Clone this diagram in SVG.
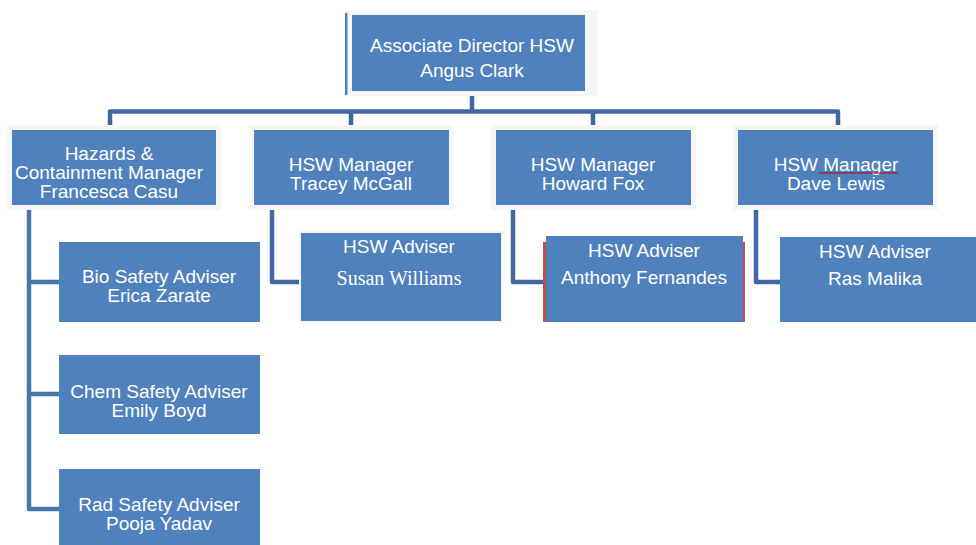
<svg xmlns="http://www.w3.org/2000/svg" width="976" height="545" viewBox="0 0 976 545">
<style>
.box{fill:#4F81BD}
.halo{fill:#F6F6F6}
.t{font-family:"Liberation Sans",Arial,sans-serif;font-size:19px;fill:#FFFFFF;text-anchor:middle}
.s{font-family:"Liberation Serif","Times New Roman",serif;font-size:20px;fill:#FFFFFF;text-anchor:middle}
.c{fill:none;stroke:#41699F;stroke-width:4.5;stroke-linejoin:round}
.c2{fill:none;stroke:#4A76AE;stroke-width:4.5;stroke-linejoin:round}
</style>
<rect width="976" height="545" fill="#FFFFFF"/>
<g id="connectors">
<path class="c" d="M472,96 V111.5 M110,125 V111.5 H838 V125 M351,111.5 V125 M593,111.5 V125"/>
<path class="c2" d="M29,205 V509 H59 M29,282 H59 M29,394 H59"/>
<path class="c" d="M272,208 V282 H301"/>
<path class="c" d="M513,208 V282 H546"/>
<path class="c" d="M756,208 V282 H780"/>
</g>
<g id="director">
<rect class="halo" x="346" y="10" width="251" height="86"/>
<rect x="345" y="13" width="2.5" height="82" fill="#4F81BD"/>
<rect class="box" x="352" y="15" width="233" height="76"/>
<text class="t" x="472" y="52">Associate Director HSW</text>
<text class="t" x="472" y="77">Angus Clark</text>
</g>
<g id="hazards">
<rect class="halo" x="7" y="125" width="214" height="85"/>
<rect class="box" x="12" y="130" width="204" height="75"/>
<text class="t" x="109" y="160">Hazards &amp;</text>
<text class="t" x="109" y="179">Containment Manager</text>
<text class="t" x="109" y="198">Francesca Casu</text>
</g>
<g id="tracey">
<rect class="halo" x="249" y="125" width="205" height="85"/>
<rect class="box" x="254" y="130" width="195" height="75"/>
<text class="t" x="351" y="171">HSW Manager</text>
<text class="t" x="351" y="190">Tracey McGall</text>
</g>
<g id="howard">
<rect class="halo" x="491" y="125" width="205" height="85"/>
<rect class="box" x="496" y="130" width="195" height="75"/>
<text class="t" x="593" y="171">HSW Manager</text>
<text class="t" x="593" y="190">Howard Fox</text>
</g>
<g id="dave">
<rect class="halo" x="733" y="125" width="205" height="85"/>
<rect class="box" x="738" y="130" width="195" height="75"/>
<text class="t" x="836" y="171">HSW Manager</text>
<text class="t" x="836" y="190">Dave Lewis</text>
<line x1="819" y1="173" x2="898" y2="173" stroke="#C00000" stroke-width="1"/>
</g>
<g id="bio">
<rect class="box" x="59" y="242" width="201" height="80"/>
<text class="t" x="159" y="283">Bio Safety Adviser</text>
<text class="t" x="159" y="302">Erica Zarate</text>
</g>
<g id="chem">
<rect class="box" x="59" y="355" width="201" height="79"/>
<text class="t" x="159" y="398">Chem Safety Adviser</text>
<text class="t" x="159" y="417">Emily Boyd</text>
</g>
<g id="rad">
<rect class="box" x="59" y="469" width="201" height="76"/>
<text class="t" x="159" y="511">Rad Safety Adviser</text>
<text class="t" x="159" y="530">Pooja Yadav</text>
</g>
<g id="susan">
<rect class="halo" x="299" y="231" width="204" height="92"/>
<rect class="box" x="301" y="233" width="200" height="88"/>
<text class="t" x="399" y="253">HSW Adviser</text>
<text class="s" x="399" y="285">Susan Williams</text>
</g>
<g id="anthony">
<rect x="543" y="242" width="202" height="80" fill="#C0504D"/>
<rect class="box" x="546" y="236" width="197" height="86"/>
<text class="t" x="644" y="257">HSW Adviser</text>
<text class="t" x="644" y="284">Anthony Fernandes</text>
</g>
<g id="ras">
<rect class="box" x="780" y="237" width="196" height="85"/>
<text class="t" x="875" y="258">HSW Adviser</text>
<text class="t" x="875" y="285">Ras Malika</text>
</g>
</svg>
